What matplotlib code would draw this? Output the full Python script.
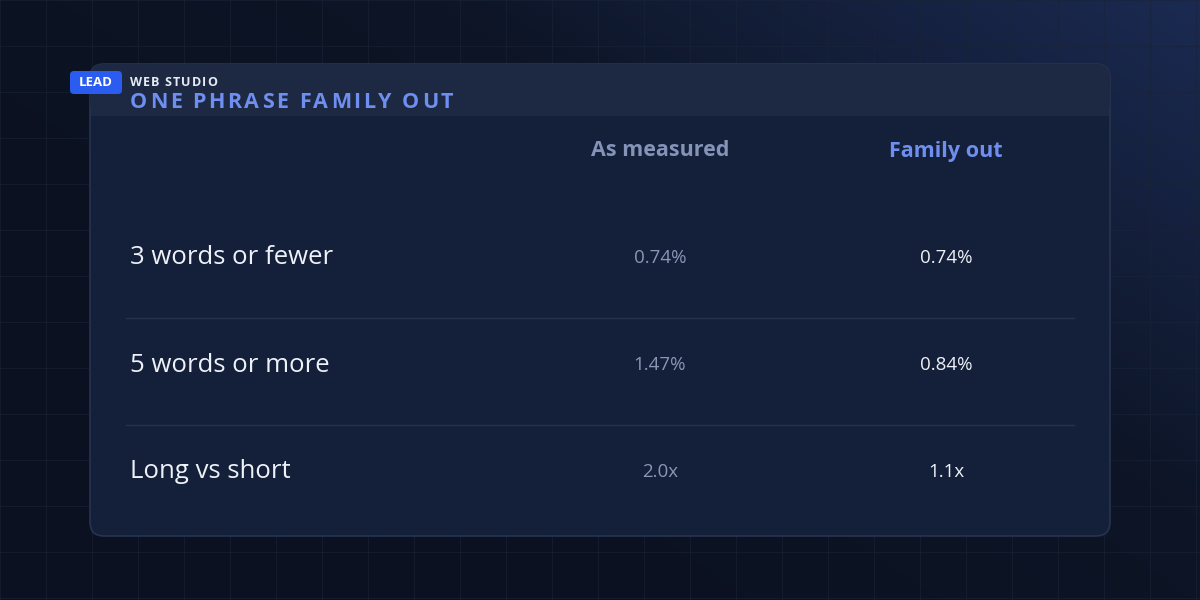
import numpy as np
import matplotlib
matplotlib.use("Agg")
import matplotlib.pyplot as plt
from matplotlib.patches import FancyBboxPatch, Rectangle
from matplotlib.colors import LinearSegmentedColormap

plt.rcParams["font.family"] = ["Open Sans", "DejaVu Sans"]

# --- data ---
columns = ["As measured", "Family out"]
rows = ["3 words or fewer", "5 words or more", "Long vs short"]
as_measured = ["0.74%", "1.47%", "2.0x"]
family_out = ["0.74%", "0.84%", "1.1x"]

W, H = 1200, 600
fig = plt.figure(figsize=(12, 6), dpi=100)
ax = fig.add_axes([0, 0, 1, 1])
ax.set_xlim(0, W)
ax.set_ylim(H, 0)
ax.axis("off")

# background gradient (dark bottom-left -> bluer top-right)
xx, yy = np.meshgrid(np.linspace(0, 1, 300), np.linspace(0, 1, 150))
g = np.clip(0.75 * xx + 0.55 * (1 - yy) - 0.35, 0, 1)
cmap = LinearSegmentedColormap.from_list("bg", ["#0b1120", "#0d1526", "#1b2a52"])
ax.imshow(g, extent=[0, W, H, 0], cmap=cmap, aspect="auto", zorder=0)

# grid
for x in np.arange(0, W, 46):
    ax.plot([x, x], [0, H], color="#1a2438", lw=0.8, alpha=0.6, zorder=1)
for y in np.arange(0, H, 46):
    ax.plot([0, W], [y, y], color="#1a2438", lw=0.8, alpha=0.6, zorder=1)

# card
ax.add_patch(FancyBboxPatch((90, 64), 1020, 472, boxstyle="round,pad=0,rounding_size=14",
                            facecolor="#14203a", edgecolor="#273350", lw=1.2, zorder=2))
# header band
ax.add_patch(FancyBboxPatch((90, 64), 1020, 52, boxstyle="round,pad=0,rounding_size=14",
                            facecolor="#1d2942", edgecolor="none", zorder=3))
ax.add_patch(Rectangle((91, 100), 1018, 16, facecolor="#1d2942", edgecolor="none", zorder=3))


def spaced(x, y, s, track, **kw):
    """Draw text char by char with extra letter spacing (pixels)."""
    r = fig.canvas.get_renderer()
    for ch in s:
        t = ax.text(x, y, ch, ha="left", va="center", zorder=6, **kw)
        w = t.get_window_extent(renderer=r).width if ch != " " else kw["fontsize"] * 0.35
        x += w + track


# badge
ax.add_patch(FancyBboxPatch((70, 71), 52, 23, boxstyle="round,pad=0,rounding_size=4",
                            facecolor="#2b5cf0", edgecolor="none", zorder=5))
ax.text(96, 83, "LEAD", color="white", fontsize=9.5, fontweight="bold",
        ha="center", va="center", zorder=6)
spaced(130, 83, "WEB STUDIO", 1.0, color="#e6ebf5", fontsize=9, fontweight="bold")
spaced(130, 102, "ONE PHRASE FAMILY OUT", 2.6, color="#6f8ff0", fontsize=15.5,
       fontweight="bold")

# column headers
col_x = [660, 946]
ax.text(col_x[0], 151, columns[0], color="#8593b8", fontsize=15.5, fontweight="bold",
        ha="center", va="center", zorder=6)
ax.text(col_x[1], 151, columns[1], color="#6f8ff0", fontsize=15.5, fontweight="bold",
        ha="center", va="center", zorder=6)

row_y = [258, 365, 472]
for i, (name, a, f) in enumerate(zip(rows, as_measured, family_out)):
    y = row_y[i]
    ax.text(130, y, name, color="#eef1f8", fontsize=18.5, ha="left", va="center", zorder=6)
    ax.text(col_x[0], y, a, color="#8a96b5", fontsize=13.5, ha="center", va="center", zorder=6)
    ax.text(col_x[1], y, f, color="#eef1f8", fontsize=13.5, ha="center", va="center", zorder=6)
    if i < len(rows) - 1:
        ax.plot([126, 1074], [y + 60, y + 60], color="#26324a", lw=1, zorder=5)

fig.savefig("out.png", dpi=100, facecolor="#0b1120")
